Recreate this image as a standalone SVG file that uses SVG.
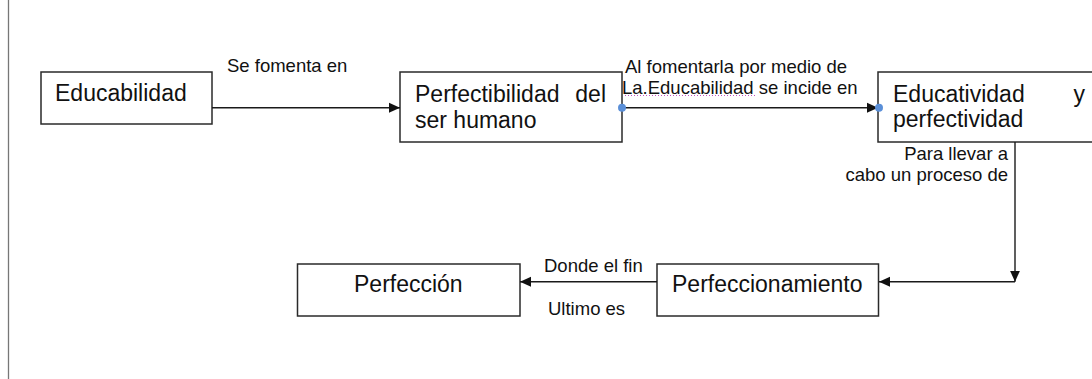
<svg xmlns="http://www.w3.org/2000/svg" width="1092" height="379" viewBox="0 0 1092 379">
<style>
.box{fill:#fff;stroke:#2a2a2a;stroke-width:1.5}
.nt{font-family:"Liberation Sans",Arial,sans-serif;font-size:23px;fill:#111}
.lt{font-family:"Liberation Sans",Arial,sans-serif;font-size:18.5px;fill:#111}
.con{fill:none;stroke:#1a1a1a;stroke-width:1.4}
.dot{fill:#5a8fd8}
</style>
<defs>
<marker id="arr" markerUnits="userSpaceOnUse" markerWidth="12" markerHeight="12" viewBox="0 0 12 12" refX="11" refY="6" orient="auto">
<path d="M0,1 L11,6 L0,11 Z" fill="#111"/>
</marker>
</defs>
<rect width="1092" height="379" fill="#fff"/>
<line x1="8.5" y1="0" x2="8.5" y2="379" stroke="#777" stroke-width="1.3"/>

<g id="educabilidad">
<rect class="box" x="41" y="72" width="171" height="52"/>
<text class="nt" x="55" y="101">Educabilidad</text>
</g>

<g id="perfectibilidad">
<rect class="box" x="400" y="72" width="222" height="70"/>
<text class="nt" x="415" y="102">Perfectibilidad</text>
<text class="nt" x="606" y="102" text-anchor="end">del</text>
<text class="nt" x="415" y="128">ser humano</text>
</g>

<g id="educatividad">
<rect class="box" x="878" y="72" width="230" height="70"/>
<text class="nt" x="893" y="102">Educatividad</text>
<text class="nt" x="1085" y="102" text-anchor="end">y</text>
<text class="nt" x="893" y="127">perfectividad</text>
</g>

<g id="perfeccionamiento">
<rect class="box" x="657" y="264" width="221.5" height="52"/>
<text class="nt" x="672" y="292">Perfeccionamiento</text>
</g>

<g id="perfeccion">
<rect class="box" x="297.5" y="264" width="222.5" height="52"/>
<text class="nt" x="354" y="292">Perfección</text>
</g>

<g id="connectors">
<path class="con" d="M212,107.7 H400" marker-end="url(#arr)"/>
<path class="con" d="M622,107.7 H878" marker-end="url(#arr)"/>
<circle class="dot" cx="622" cy="107.7" r="4"/>
<circle class="dot" cx="879" cy="107.7" r="4"/>
<path class="con" d="M1015,142 V281.7" marker-end="url(#arr)"/>
<path class="con" d="M1015,281.7 H879" marker-end="url(#arr)"/>
<path class="con" d="M657,281.7 H520" marker-end="url(#arr)"/>
<text class="lt" x="227" y="72">Se fomenta en</text>
<text class="lt" x="625" y="72.5">Al fomentarla por medio de</text>
<text class="lt" x="622" y="93.5">La.Educabilidad se incide en</text>
<line x1="625" y1="95.5" x2="757" y2="95.5" stroke="#c050c0" stroke-width="1" stroke-dasharray="1 2"/>
<text class="lt" x="1008" y="160" text-anchor="end">Para llevar a</text>
<text class="lt" x="1008" y="181" text-anchor="end">cabo un proceso de</text>
<text class="lt" x="544" y="272">Donde el fin</text>
<text class="lt" x="548" y="315">Ultimo es</text>
</g>
</svg>
